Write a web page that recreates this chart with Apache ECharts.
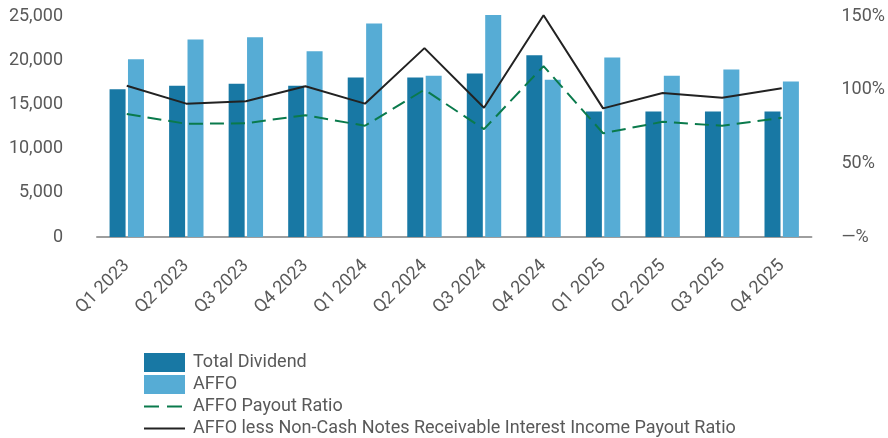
<!DOCTYPE html>
<html>
<head>
<meta charset="utf-8">
<script src="https://cdn.jsdelivr.net/npm/echarts@6/dist/echarts.min.js"></script>
<style>
  html, body { margin: 0; padding: 0; background: #fff; }
  #chart { width: 888px; height: 438px; }
</style>
</head>
<body>
<div id="chart"></div>
<script>
var quarters = ['Q1 2023', 'Q2 2023', 'Q3 2023', 'Q4 2023', 'Q1 2024', 'Q2 2024',
                'Q3 2024', 'Q4 2024', 'Q1 2025', 'Q2 2025', 'Q3 2025', 'Q4 2025'];
var totalDividend = [16700, 17100, 17350, 17100, 18050, 18050, 18500, 20550, 14200, 14200, 14200, 14200];
var affo = [20100, 22350, 22600, 21000, 24150, 18250, 25100, 17800, 20300, 18250, 18950, 17600];
var affoPayoutRatio = [83.5, 76.8, 77.2, 82.7, 75.5, 100, 73.2, 116, 70.4, 78.2, 75.5, 80.9];
var affoLessNotesRatio = [102.7, 90.5, 92.2, 102.3, 90.5, 128.2, 87.7, 150.5, 87.3, 97.7, 94.5, 100.9];

var textColor = '#595959';
var font = 'Roboto';
var darkBlue = '#1878a4';
var lightBlue = '#56acd5';
var green = '#0a7a4c';
var black = '#222222';

// legend icons: tiny corner dots keep the path box at 41x19 so the strokes are not stretched
var solidIcon = 'path://M0,0h0.01v0.01h-0.01Z M0,8.5h41v2h-41Z M40.99,18.99h0.01v0.01h-0.01Z';
var dashIcon = 'path://M0,0h0.01v0.01h-0.01Z M0,8.5h15v2h-15Z M23,8.5h15v2h-15Z M40.99,18.99h0.01v0.01h-0.01Z';

var chart = echarts.init(document.getElementById('chart'));
var option = {
    animation: false,
    textStyle: { fontFamily: font },
    grid: { left: 97, right: 73, top: 16, bottom: 201 },
    legend: {
        orient: 'vertical',
        left: 144,
        top: 353,
        padding: 0,
        itemWidth: 41,
        itemHeight: 19,
        itemGap: 3,
        textStyle: { color: textColor, fontSize: 18, fontFamily: font, padding: [0, 0, 0, 3] },
        data: [
            { name: 'Total Dividend', icon: 'rect' },
            { name: 'AFFO', icon: 'rect' },
            { name: 'AFFO Payout Ratio', icon: dashIcon, itemStyle: { color: green } },
            { name: 'AFFO less Non-Cash Notes Receivable Interest Income Payout Ratio', icon: solidIcon, itemStyle: { color: black } }
        ]
    },
    xAxis: {
        type: 'category',
        data: quarters,
        axisLine: { lineStyle: { color: '#9e9e9e', width: 2 } },
        axisTick: { show: false },
        axisLabel: { rotate: 45, margin: 26, color: textColor, fontSize: 18, fontFamily: font, interval: 0 }
    },
    yAxis: [{
        type: 'value',
        min: 0,
        max: 25000,
        interval: 5000,
        splitLine: { show: false },
        axisLine: { show: false },
        axisLabel: {
            margin: 34,
            color: textColor,
            fontSize: 18,
            fontFamily: font,
            formatter: function (v) { return v.toLocaleString('en-US'); }
        }
    }, {
        type: 'value',
        min: 0,
        max: 150,
        interval: 50,
        splitLine: { show: false },
        axisLine: { show: false },
        axisLabel: {
            margin: 30,
            color: textColor,
            fontSize: 18,
            fontFamily: font,
            formatter: function (v) { return v === 0 ? '—%' : v + '%'; }
        }
    }],
    series: [{
        name: 'Total Dividend',
        type: 'bar',
        data: totalDividend,
        barWidth: 16,
        barGap: '15%',
        clip: false,
        itemStyle: { color: darkBlue }
    }, {
        name: 'AFFO',
        type: 'bar',
        data: affo,
        barWidth: 16,
        clip: false,
        itemStyle: { color: lightBlue }
    }, {
        name: 'AFFO Payout Ratio',
        type: 'line',
        yAxisIndex: 1,
        data: affoPayoutRatio,
        symbol: 'none',
        clip: false,
        lineStyle: { color: green, width: 2, type: [14, 7] },
        itemStyle: { color: green }
    }, {
        name: 'AFFO less Non-Cash Notes Receivable Interest Income Payout Ratio',
        type: 'line',
        yAxisIndex: 1,
        data: affoLessNotesRatio,
        symbol: 'none',
        clip: false,
        lineStyle: { color: black, width: 2 },
        itemStyle: { color: black }
    }]
};
chart.setOption(option);
</script>
</body>
</html>
